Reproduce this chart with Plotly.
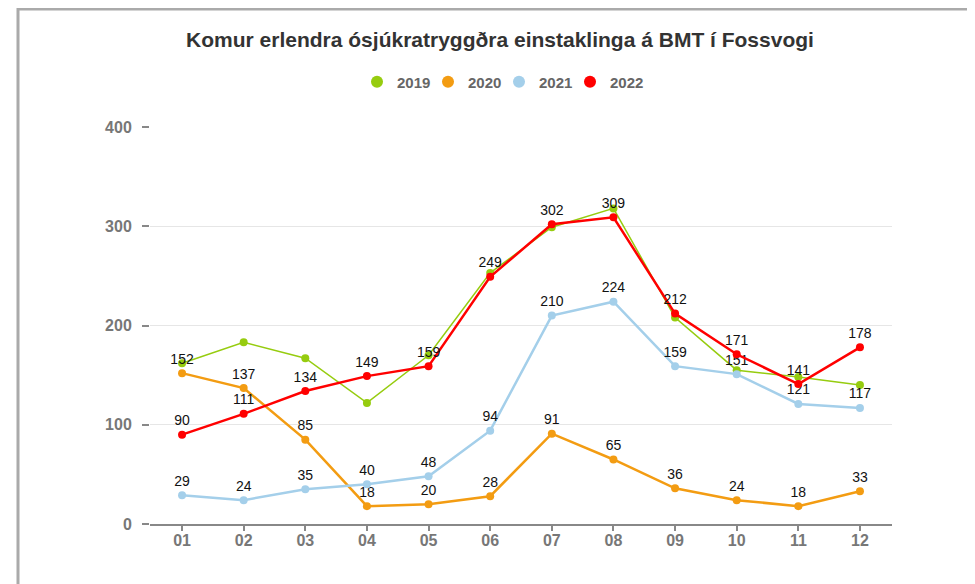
import plotly.graph_objects as go

months = ["01", "02", "03", "04", "05", "06", "07", "08", "09", "10", "11", "12"]
y2019 = [162, 183, 167, 122, 170, 253, 299, 318, 208, 155, 148, 140]
y2020 = [152, 137, 85, 18, 20, 28, 91, 65, 36, 24, 18, 33]
y2021 = [29, 24, 35, 40, 48, 94, 210, 224, 159, 151, 121, 117]
y2022 = [90, 111, 134, 149, 159, 249, 302, 309, 212, 171, 141, 178]

series = [
    ("2019", y2019, "#96cc0f", 1.5, False),
    ("2020", y2020, "#f39c12", 2.5, True),
    ("2021", y2021, "#a4cfea", 2.5, True),
    ("2022", y2022, "#ff0000", 2.5, True),
]

fig = go.Figure()
for name, ys, color, w, labels in series:
    fig.add_trace(go.Scatter(
        x=months, y=ys, name=name,
        mode="lines+markers+text" if labels else "lines+markers",
        line=dict(color=color, width=w),
        marker=dict(color=color, size=8),
        text=[str(v) for v in ys] if labels else None,
        textposition="top center",
        textfont=dict(family="Liberation Sans", size=14, color="#111111"),
        showlegend=False, cliponaxis=False,
    ))
# legend entries (dots only)
for name, ys, color, w, labels in series:
    fig.add_trace(go.Scatter(
        x=[None], y=[None], name=name, mode="markers",
        marker=dict(color=color, size=12), showlegend=True,
    ))
# invisible spacer entry so the last legend label is not clipped
fig.add_trace(go.Scatter(
    x=[None], y=[None], name=" ", mode="markers",
    marker=dict(color="rgba(0,0,0,0)", size=1), showlegend=True, hoverinfo="skip",
))

OFF = 8  # page body margin
W, H = 975 - OFF, 584 - OFF
L, R, T, B = 150 - OFF, 975 - 892, 127 - OFF, 584 - 524
pw, ph = W - L - R, H - T - B


def px(x):
    return (x - OFF - L) / pw


def py(y):
    return (H - B - (y - OFF)) / ph


fig.update_layout(
    width=W, height=H,
    margin=dict(l=L, r=R, t=T, b=B),
    paper_bgcolor="white", plot_bgcolor="white",
    font=dict(family="Liberation Sans", color="#333333"),
    title=dict(text="Komur erlendra ósjúkratryggðra einstaklinga á BMT í Fossvogi",
               font=dict(family="Liberation Sans", size=21, color="#333333", weight="bold"),
               xref="container", x=(500 - OFF) / W, xanchor="center",
               yref="container", y=1 - (40 - OFF) / H, yanchor="middle"),
    legend=dict(orientation="h", xref="paper", x=px(357), xanchor="left",
                y=py(82), yanchor="middle",
                font=dict(family="Liberation Sans", size=15, color="#666666", weight="bold"),
                itemwidth=30, entrywidth=26, entrywidthmode="pixels"),
    xaxis=dict(type="category", range=[-0.52, 11.52], showgrid=False,
               showline=True, linecolor="#888888", linewidth=2,
               ticks="outside", ticklen=5, tickcolor="#888888", tickwidth=1.5,
               ticklabelstandoff=-4,
               tickfont=dict(family="Liberation Sans", size=16, color="#777777", weight="bold"),
               fixedrange=True),
    yaxis=dict(range=[0, 400], tickvals=[0, 100, 200, 300, 400],
               showgrid=True, gridcolor="#e6e6e6", gridwidth=1,
               zeroline=False, showline=False,
               ticks="outside", ticklen=7, tickcolor="#888888", tickwidth=1.5,
               ticklabelstandoff=7,
               tickfont=dict(family="Liberation Sans", size=16, color="#777777", weight="bold"),
               fixedrange=True),
    shapes=[dict(type="rect", xref="paper", yref="paper",
                 x0=px(18), x1=px(970), y0=py(OFF + 1), y1=py(620),
                 line=dict(color="#aaaaaa", width=3), layer="below")],
)

fig.write_html("out.html")
